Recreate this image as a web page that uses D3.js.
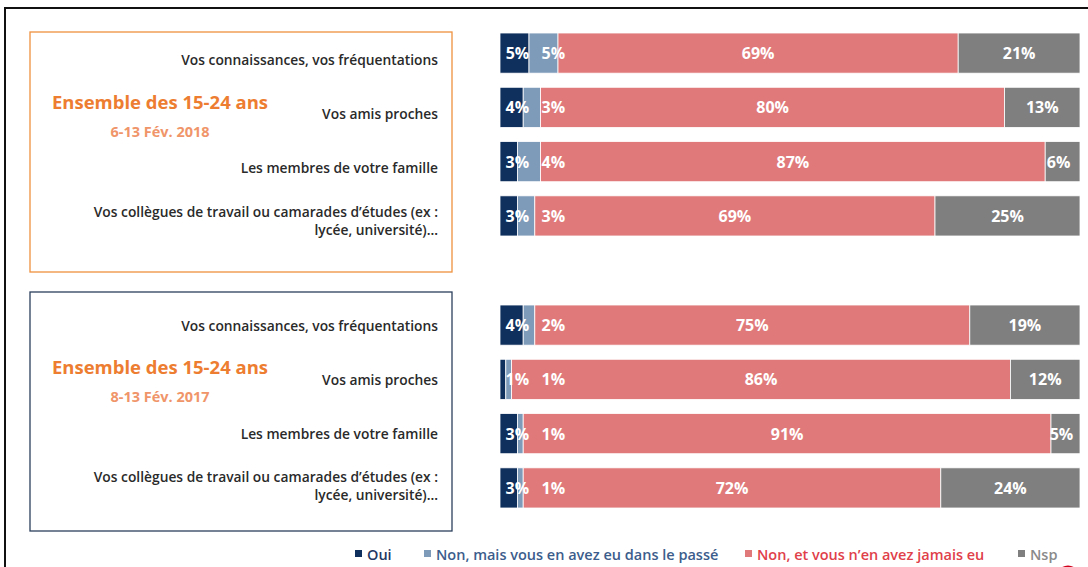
<!DOCTYPE html>
<html><head><meta charset="utf-8">
<script src="https://cdn.jsdelivr.net/npm/d3@7"></script>
<style>
html,body{margin:0;padding:0;background:#fff;overflow:hidden}
svg{display:block;font-family:"Open Sans",Lato,sans-serif}
</style></head>
<body>
<svg id="chart" width="1088" height="567"></svg>
<script>
// ---- data ----
const categories = [
  "Vos connaissances, vos fréquentations",
  "Vos amis proches",
  "Les membres de votre famille",
  "Vos collègues de travail ou camarades d’études (ex :|lycée, université)…"
];
const seriesNames = ["Oui", "Non, mais vous en avez eu dans le passé", "Non, et vous n’en avez jamais eu", "Nsp"];
const oui2018    = [5, 4, 3, 3];
const passe2018  = [5, 3, 4, 3];
const jamais2018 = [69, 80, 87, 69];
const nsp2018    = [21, 13, 6, 25];
const oui2017    = [4, 1, 3, 3];
const passe2017  = [2, 1, 1, 1];
const jamais2017 = [75, 86, 91, 72];
const nsp2017    = [19, 12, 5, 24];
const panelTitles = ["Ensemble des 15-24 ans", "Ensemble des 15-24 ans"];
const panelDates  = ["6-13 Fév. 2018", "8-13 Fév. 2017"];

// ---- styles ----
const barColors  = ["#0f2f5c", "#7e9bba", "#e07a7a", "#7f7f7f"];
const textColors = ["#1f3864", "#3c5d8c", "#e0404a", "#8a8a8a"];

const svg = d3.select("#chart");

svg.append("rect").attr("x",5).attr("y",8).attr("width",1200).attr("height",700)
  .attr("fill","none").attr("stroke","#111").attr("stroke-width",2);

const x = d3.scaleLinear().domain([0,100]).range([500,1080]);

const panels = [
  {series:[oui2018,passe2018,jamais2018,nsp2018], range:[33,236], box:[30,32,422,240], boxColor:"#f0913f", title:panelTitles[0], date:panelDates[0], labelDy:6, tcy:101, two:[-4,14]},
  {series:[oui2017,passe2017,jamais2017,nsp2017], range:[305,508], box:[30,292,422,239], boxColor:"#2c3f5c", title:panelTitles[1], date:panelDates[1], labelDy:0, tcy:366, two:[-11,7]}
];

panels.forEach((p,pi)=>{
  const y = d3.scaleBand().domain(categories).range(p.range).paddingInner(0.26).paddingOuter(0);
  const g = svg.append("g");
  g.append("rect").attr("x",p.box[0]).attr("y",p.box[1]).attr("width",p.box[2]).attr("height",p.box[3])
    .attr("fill","none").attr("stroke",p.boxColor).attr("stroke-width",1.3);
  g.append("text").attr("x",160).attr("y",p.tcy).attr("text-anchor","middle").attr("dominant-baseline","central")
    .attr("font-size",18.5).attr("font-weight",700).attr("fill","#ed7d31").text(p.title);
  g.append("text").attr("x",160).attr("y",p.tcy + 30).attr("text-anchor","middle").attr("dominant-baseline","central")
    .attr("font-size",14.5).attr("font-weight",700).attr("fill","#f0956a").text(p.date);

  const barsG = g.append("g"), labelsG = g.append("g");
  categories.forEach((c,i)=>{
    const cy = y(c) + y.bandwidth()/2;
    const lines = c.split("|");
    const t = g.append("text").attr("text-anchor","end").attr("font-size",13.8).attr("font-weight",600).attr("fill","#2a2a2a");
    if(lines.length===1){
      t.append("tspan").attr("x",438).attr("y",cy + p.labelDy).attr("dominant-baseline","central").text(lines[0]);
    } else {
      lines.forEach((l,k)=>t.append("tspan").attr("x",438).attr("y",cy + p.two[k]).attr("dominant-baseline","central").text(l));
    }
    let acc = 0;
    p.series.forEach((s,si)=>{
      const v = s[i];
      const x0 = x(acc), x1 = x(acc+v);
      barsG.append("rect").attr("x",x0).attr("y",y(c)).attr("width",x1-x0).attr("height",y.bandwidth())
        .attr("fill",barColors[si]).attr("stroke","#fff").attr("stroke-width",0.8);
      let lx = (x0+x1)/2;
      if(si===0) lx = Math.max(lx + 3, x(3));
      if(si===1) lx = Math.max(lx, x(9.2));
      if(si===3 && x1-x0 < 40) lx = lx - 4;
      labelsG.append("text").attr("x",lx).attr("y",cy).attr("text-anchor","middle").attr("dominant-baseline","central")
        .attr("font-size",16).attr("font-weight",700).attr("fill","#fff").text(v + "%");
      acc += v;
    });
  });
});

// legend
const legendX = [355, 424, 745, 1018];
const lg = svg.append("g");
seriesNames.forEach((n,i)=>{
  lg.append("rect").attr("x",legendX[i]).attr("y",550).attr("width",7).attr("height",7).attr("fill",barColors[i]);
  lg.append("text").attr("x",legendX[i]+12).attr("y",554).attr("dominant-baseline","central")
    .attr("font-size",14.5).attr("font-weight",600).attr("fill",textColors[i]).text(n);
});
svg.append("circle").attr("cx",1068).attr("cy",577).attr("r",10).attr("fill","none").attr("stroke","#d0021b").attr("stroke-width",3);
</script>
</body></html>
